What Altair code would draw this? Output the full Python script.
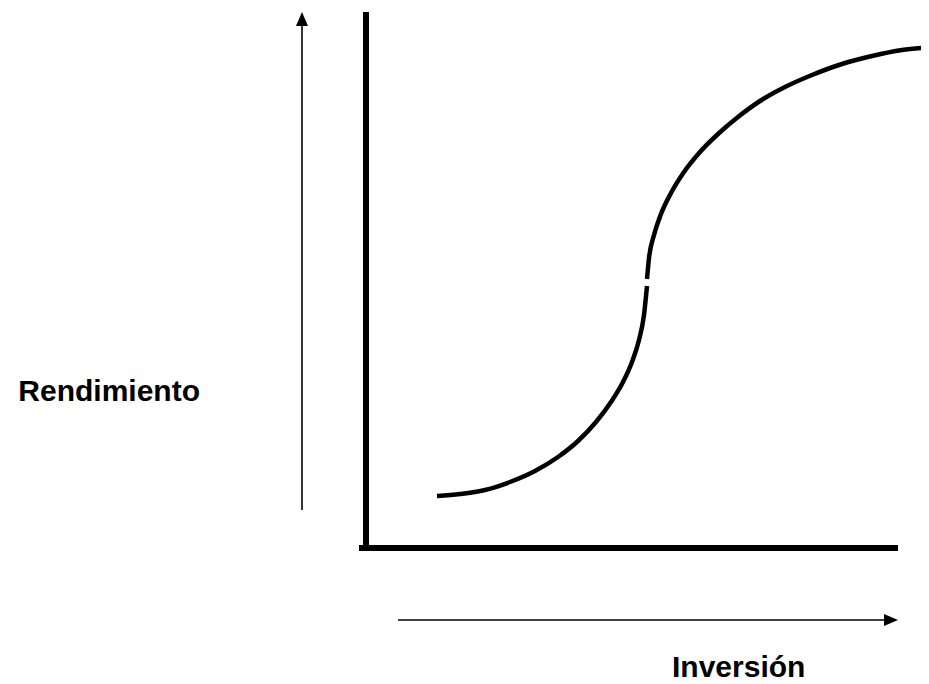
import altair as alt
import pandas as pd

# Concept diagram coordinates (origin at the axes corner, y upward)
lower_x = [71, 94, 119, 144, 169, 192, 212, 230, 245, 257, 266, 273, 278, 281]
lower_y = [52, 54, 58, 66, 77, 91, 107, 126, 146, 166, 186, 208, 233, 262]
upper_x = [281, 283, 288, 295, 305, 318, 334, 352, 372, 394, 419, 446, 476, 506, 536, 569]
upper_y = [269, 290, 313, 334, 355, 376, 396, 414, 431, 447, 461, 473, 484, 492, 498, 501]

axis_x1 = [0, -7]
axis_x2 = [0, 532]
axis_y1 = [-3, 0]
axis_y2 = [536, 0]

arrow_x1 = [-64, 32]
arrow_x2 = [-64, 518]
arrow_y1 = [38, -72]
arrow_y2 = [522, -72]

head_x = [-64, 525]
head_y = [529, -72]
head_shape = ["M0,-1L0.86,1L-0.86,1Z", "M1,0L-1,-0.86L-1,0.86Z"]

labels = ["Rendimiento", "Inversión"]
label_x = [-166, 306]
label_y = [147, -129]
label_align = ["right", "left"]

xs = alt.Scale(domain=[-358, 555], nice=False, zero=False)
ys = alt.Scale(domain=[-136, 540], nice=False, zero=False)

curve = pd.DataFrame({
    "x": lower_x + upper_x,
    "y": lower_y + upper_y,
    "seg": ["lower"] * len(lower_x) + ["upper"] * len(upper_x),
    "order": list(range(len(lower_x))) + list(range(len(upper_x))),
})
axes_df = pd.DataFrame({"x": axis_x1, "x2": axis_x2, "y": axis_y1, "y2": axis_y2})
arrows_df = pd.DataFrame({"x": arrow_x1, "x2": arrow_x2, "y": arrow_y1, "y2": arrow_y2})
heads_df = pd.DataFrame({"x": head_x, "y": head_y, "shape": head_shape})
text_df = pd.DataFrame({"label": labels, "x": label_x, "y": label_y, "align": label_align})

curve_layer = alt.Chart(curve).mark_line(
    color="black", strokeWidth=4.5, interpolate="monotone", clip=True
).encode(
    x=alt.X("x:Q", scale=xs, axis=None),
    y=alt.Y("y:Q", scale=ys, axis=None),
    detail="seg:N",
    order="order:Q",
)

axes_layer = alt.Chart(axes_df).mark_rule(color="black", strokeWidth=6).encode(
    x=alt.X("x:Q", scale=xs, axis=None), x2="x2:Q",
    y=alt.Y("y:Q", scale=ys, axis=None), y2="y2:Q",
)

arrows_layer = alt.Chart(arrows_df).mark_rule(color="black", strokeWidth=1.6).encode(
    x=alt.X("x:Q", scale=xs, axis=None), x2="x2:Q",
    y=alt.Y("y:Q", scale=ys, axis=None), y2="y2:Q",
)

heads_layer = alt.Chart(heads_df).mark_point(
    filled=True, color="black", size=196, opacity=1
).encode(
    x=alt.X("x:Q", scale=xs, axis=None),
    y=alt.Y("y:Q", scale=ys, axis=None),
    shape=alt.Shape("shape:N", scale=None),
)

def text_layer(i):
    sub = text_df.iloc[[i]]
    return alt.Chart(sub).mark_text(
        font="Liberation Sans", fontWeight="bold", fontSize=30, color="black",
        align=label_align[i], baseline="alphabetic"
    ).encode(
        x=alt.X("x:Q", scale=xs, axis=None),
        y=alt.Y("y:Q", scale=ys, axis=None),
        text="label:N",
    )

chart = alt.layer(
    axes_layer, arrows_layer, heads_layer, curve_layer, text_layer(0), text_layer(1)
).properties(
    width=913, height=676, padding=0,
    autosize=alt.AutoSizeParams(type="none"),
    background="white",
).configure_view(stroke=None)

chart.save("out.html", embed_options={"renderer": "svg", "actions": False})
